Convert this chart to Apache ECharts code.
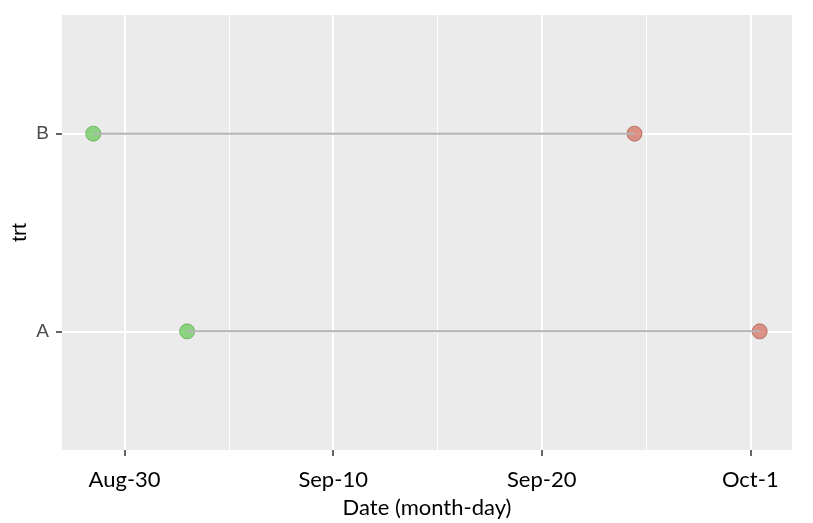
<!DOCTYPE html>
<html>
<head>
    <meta charset="utf-8">
    <title>trt dumbbell</title>
    <style>
    html, body { margin: 0; padding: 0; background: #fff; }
    </style>
    <script type="text/javascript" src="https://cdn.jsdelivr.net/npm/echarts@6/dist/echarts.min.js"></script>
</head>
<body>
    <div id="main" style="width:813px;height:523px"></div>
    <script>
    // days counted from the "Aug-30" tick
    var trt = ['A', 'B'];
    var startDay = [3.0, -1.5];
    var endDay = [30.45, 24.45];
    var tickVals = [0, 10, 20, 30];
    var tickLabels = ['Aug-30', 'Sep-10', 'Sep-20', 'Oct-1'];
    var minorVals = [5, 15, 25];

    var series = [];
    // gray segments, one per trt
    for (var i = 0; i < trt.length; i++) {
        series.push({
            type: 'line',
            symbol: 'none',
            silent: true,
            z: 3,
            lineStyle: { color: '#b3b3b3', width: 2 },
            data: [[startDay[i], i], [endDay[i], i]]
        });
    }
    series.push({
        type: 'scatter',
        symbolSize: 15,
        z: 2,
        itemStyle: { color: '#72ca62', borderColor: '#5aae4d', borderWidth: 1, opacity: 0.78 },
        data: startDay.map(function (d, i) { return [d, i]; })
    });
    series.push({
        type: 'scatter',
        symbolSize: 15,
        z: 2,
        itemStyle: { color: '#d47a6c', borderColor: '#b05c50', borderWidth: 1, opacity: 0.8 },
        data: endDay.map(function (d, i) { return [d, i]; })
    });

    var option = {
        animation: false,
        grid: {
            left: 62, right: 21, top: 15, bottom: 73,
            outerBoundsMode: 'none',
            containLabel: false,
            show: true, backgroundColor: '#ebebeb', borderWidth: 0
        },
        xAxis: [{
            type: 'value',
            min: -3,
            max: 32,
            name: 'Date (month-day)',
            nameLocation: 'middle',
            nameGap: 47,
            nameTextStyle: { fontFamily: 'Lato', fontSize: 22, color: '#000' },
            axisLine: { show: false, onZero: false },
            axisTick: {
                show: true, length: 6, customValues: tickVals,
                lineStyle: { color: '#333', width: 1.5 }
            },
            axisLabel: {
                customValues: tickVals,
                margin: 19,
                fontFamily: 'Lato',
                fontSize: 22,
                color: '#000',
                formatter: function (v) { return tickLabels[tickVals.indexOf(v)]; }
            },
            splitLine: { show: true, lineStyle: { color: '#fff', width: 2 } }
        }, {
            type: 'value',
            min: -3,
            max: 32,
            position: 'bottom',
            axisLine: { show: false, onZero: false },
            axisTick: { show: false, customValues: minorVals },
            axisLabel: { show: false },
            splitLine: { show: true, lineStyle: { color: '#fff', width: 1 } }
        }],
        yAxis: {
            type: 'value',
            min: -0.6,
            max: 1.6,
            name: 'trt',
            nameLocation: 'middle',
            nameGap: 31,
            nameRotate: 90,
            nameMoveOverlap: false,
            nameTextStyle: { fontFamily: 'Liberation Sans', fontSize: 21, color: '#000' },
            axisLine: { show: false, onZero: false },
            axisTick: {
                show: true, length: 6, customValues: [0, 1],
                lineStyle: { color: '#333', width: 1.5 }
            },
            axisLabel: {
                customValues: [0, 1],
                margin: 13,
                fontFamily: 'Liberation Sans',
                fontSize: 19,
                color: '#4d4d4d',
                formatter: function (v) { return trt[v]; }
            },
            splitLine: { show: true, lineStyle: { color: '#fff', width: 2 } }
        },
        series: series
    };

    var myChart = echarts.init(document.getElementById('main'));
    myChart.setOption(option);
    </script>
</body>
</html>
